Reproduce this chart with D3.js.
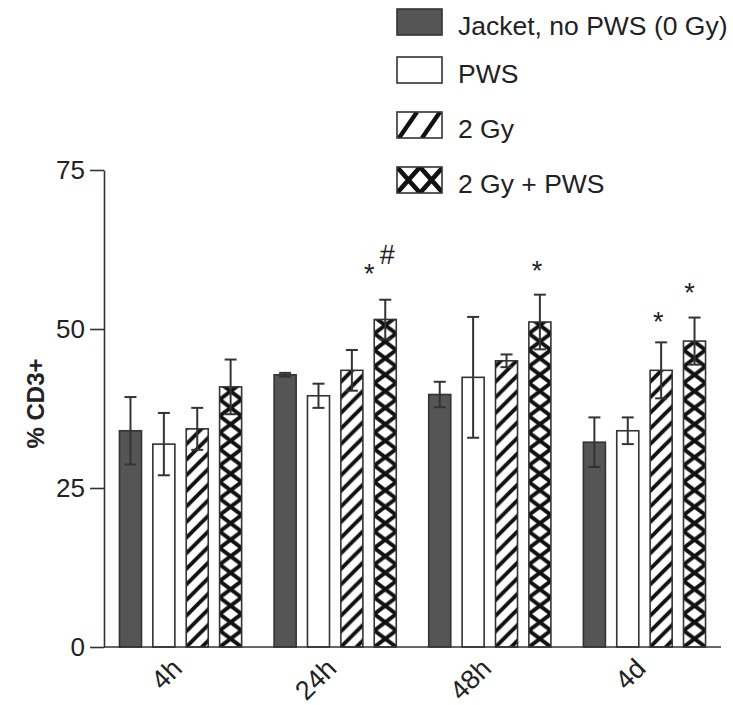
<!DOCTYPE html>
<html>
<head>
<meta charset="utf-8">
<script src="https://cdn.jsdelivr.net/npm/d3@7"></script>
<style>
  html, body { margin: 0; padding: 0; background: #fff; }
  svg { display: block; }
  text { font-family: "Liberation Sans", Arial, Helvetica, sans-serif; fill: #222; }
</style>
</head>
<body>
<svg id="chart" width="733" height="705"></svg>
<script>
// ---------- data ----------
const categories = ["4h", "24h", "48h", "4d"];
const seriesNames = ["Jacket, no PWS (0 Gy)", "PWS", "2 Gy", "2 Gy + PWS"];
const jacketMean = [34.0, 42.8, 39.7, 32.2];
const jacketErr  = [5.3, 0.3, 2.0, 3.9];
const pwsMean    = [31.9, 39.5, 42.4, 34.0];
const pwsErr     = [4.9, 1.9, 9.5, 2.1];
const gy2Mean    = [34.3, 43.5, 45.0, 43.5];
const gy2Err     = [3.3, 3.2, 1.0, 4.4];
const gy2PwsMean = [40.9, 51.5, 51.1, 48.1];
const gy2PwsErr  = [4.3, 3.1, 4.3, 3.7];
const yTicks = [0, 25, 50, 75];
const yLabel = "% CD3+";
// significance marks: category, series index, symbol
const marks = [
  {cat: "24h", s: 3, text: "*"},
  {cat: "24h", s: 3, text: "#"},
  {cat: "48h", s: 3, text: "*"},
  {cat: "4d",  s: 2, text: "*"},
  {cat: "4d",  s: 3, text: "*"}
];
// layout offsets for the marks (dx from bar centre, dy above error cap)
const markOffsets = [[-16, 17], [2, 36], [-3, 15], [-3, 11], [-5, 16]];

const means = [jacketMean, pwsMean, gy2Mean, gy2PwsMean];
const errs  = [jacketErr, pwsErr, gy2Err, gy2PwsErr];
const styles = ["solid", "white", "hatch", "cross"];

// ---------- chart ----------
const svg = d3.select("#chart");
const axisColor = "#333";
const plotLeft = 104, plotRight = 721, plotTop = 170, plotBottom = 647;

const x0 = d3.scaleBand().domain(categories).range([plotLeft, plotRight])
  .paddingInner(0.21).paddingOuter(0.1);
const x1 = d3.scaleBand().domain(d3.range(seriesNames.length))
  .range([0, x0.bandwidth()]).paddingInner(0.34);
const y = d3.scaleLinear().domain([0, 75]).range([plotBottom, plotTop]);

// patterns
const defs = svg.append("defs");
const p = 15.6;
const hatch = defs.append("pattern").attr("id", "hatch")
  .attr("patternUnits", "userSpaceOnUse").attr("width", p).attr("height", p);
hatch.append("rect").attr("width", p).attr("height", p).attr("fill", "#fff");
hatch.append("path")
  .attr("d", `M${-p},${p} L${p},${-p} M${-p},${2*p} L${2*p},${-p} M0,${2*p} L${2*p},0`)
  .attr("stroke", "#111").attr("stroke-width", 3.9);

const bw = x1.bandwidth();
const cw = bw, ch = 16.5;
const cross = defs.append("pattern").attr("id", "cross")
  .attr("patternUnits", "userSpaceOnUse").attr("width", cw).attr("height", ch);
cross.append("rect").attr("width", cw).attr("height", ch).attr("fill", "#fff");
cross.append("path")
  .attr("d", `M${-cw},${-ch} L${2*cw},${2*ch} M${2*cw},${-ch} L${-cw},${2*ch}`)
  .attr("stroke", "#111").attr("stroke-width", 4.0);

// legend patterns
const lw = 23, lh = 26;
const lhatch = defs.append("pattern").attr("id", "lhatch")
  .attr("patternUnits", "userSpaceOnUse").attr("width", lw).attr("height", lh);
lhatch.append("rect").attr("width", lw).attr("height", lh).attr("fill", "#fff");
lhatch.append("path")
  .attr("d", `M2,${lh} L20,0 M${2-lw},${lh} L${20-lw},0 M${2+lw},${lh} L${20+lw},0`)
  .attr("stroke", "#111").attr("stroke-width", 4.4);
const lcross = defs.append("pattern").attr("id", "lcross")
  .attr("patternUnits", "userSpaceOnUse").attr("width", lw).attr("height", lh);
lcross.append("rect").attr("width", lw).attr("height", lh).attr("fill", "#fff");
lcross.append("path")
  .attr("d", `M${-lw/2},${-lh/2} L${lw*1.5},${lh*1.5} M${lw*1.5},${-lh/2} L${-lw/2},${lh*1.5}`)
  .attr("stroke", "#111").attr("stroke-width", 4.6);

function fillFor(style, legend) {
  if (style === "solid") return "#555";
  if (style === "white") return "#fff";
  if (style === "hatch") return legend ? "url(#lhatch)" : "url(#hatch)";
  return legend ? "url(#lcross)" : "url(#cross)";
}

// bars
const barData = [];
categories.forEach((c, ci) => {
  seriesNames.forEach((s, si) => {
    barData.push({cat: c, s: si, v: means[si][ci], e: errs[si][ci]});
  });
});

const bars = svg.append("g").selectAll("g").data(barData).join("g")
  .attr("transform", d => `translate(${x0(d.cat) + x1(d.s)},${plotBottom})`);
bars.append("rect")
  .attr("x", 0).attr("y", d => y(d.v) - plotBottom)
  .attr("width", bw)
  .attr("height", d => plotBottom - y(d.v))
  .attr("fill", d => fillFor(styles[d.s], false))
  .attr("stroke", axisColor).attr("stroke-width", 1.6);

// error bars
const cap = 6;
const eb = bars.append("g").attr("stroke", axisColor).attr("stroke-width", 2)
  .attr("transform", `translate(${bw / 2},0)`);
eb.append("line").attr("x1", 0).attr("x2", 0)
  .attr("y1", d => y(d.v + d.e) - plotBottom).attr("y2", d => y(d.v - d.e) - plotBottom);
eb.append("line").attr("x1", -cap).attr("x2", cap)
  .attr("y1", d => y(d.v + d.e) - plotBottom).attr("y2", d => y(d.v + d.e) - plotBottom);
eb.append("line").attr("x1", -cap).attr("x2", cap)
  .attr("y1", d => y(d.v - d.e) - plotBottom).attr("y2", d => y(d.v - d.e) - plotBottom);

// axes
const yAxis = svg.append("g").attr("transform", `translate(${plotLeft},0)`)
  .call(d3.axisLeft(y).tickValues(yTicks).tickSize(14).tickPadding(5).tickSizeOuter(0));
yAxis.selectAll("path, line").attr("stroke", axisColor).attr("stroke-width", 1.6);
yAxis.selectAll("text").attr("font-size", 26).attr("fill", "#222")
  .attr("font-family", "Liberation Sans, Arial, sans-serif");

const xAxis = svg.append("g").attr("transform", `translate(0,${plotBottom})`)
  .call(d3.axisBottom(x0).tickSize(0).tickSizeOuter(0).tickPadding(0));
xAxis.select(".domain").attr("stroke", axisColor).attr("stroke-width", 1.6)
  .attr("d", `M${plotLeft},0H${plotRight}`);
xAxis.selectAll("text")
  .attr("font-size", 27).attr("fill", "#222")
  .attr("font-family", "Liberation Sans, Arial, sans-serif")
  .attr("text-anchor", "end")
  .attr("dy", null).attr("y", 0)
  .attr("transform", "translate(3,23) rotate(-45)");

// y label
svg.append("text")
  .attr("transform", `translate(44,${(plotTop + plotBottom) / 2 - 5}) rotate(-90)`)
  .attr("text-anchor", "middle")
  .attr("font-size", 24).attr("font-weight", "bold")
  .text(yLabel);

// significance marks
marks.forEach((m, i) => {
  const ci = categories.indexOf(m.cat);
  const cx = x0(m.cat) + x1(m.s) + bw / 2 + markOffsets[i][0];
  const yTop = y(means[m.s][ci] + errs[m.s][ci]);
  svg.append("text").attr("x", cx).attr("y", yTop - markOffsets[i][1])
    .attr("text-anchor", "middle").attr("font-size", 27).text(m.text);
});

// legend
const legendX = 397, legendYs = [9, 57, 112, 167];
const lg = svg.append("g").selectAll("g").data(seriesNames).join("g")
  .attr("transform", (d, i) => `translate(${legendX},${legendYs[i]})`);
lg.append("rect").attr("width", 45).attr("height", 26)
  .attr("fill", (d, i) => fillFor(styles[i], true))
  .attr("stroke", axisColor).attr("stroke-width", 1.6);
lg.append("text").attr("x", 61).attr("y", 26)
  .attr("font-size", 26.5).text(d => d);
</script>
</body>
</html>
